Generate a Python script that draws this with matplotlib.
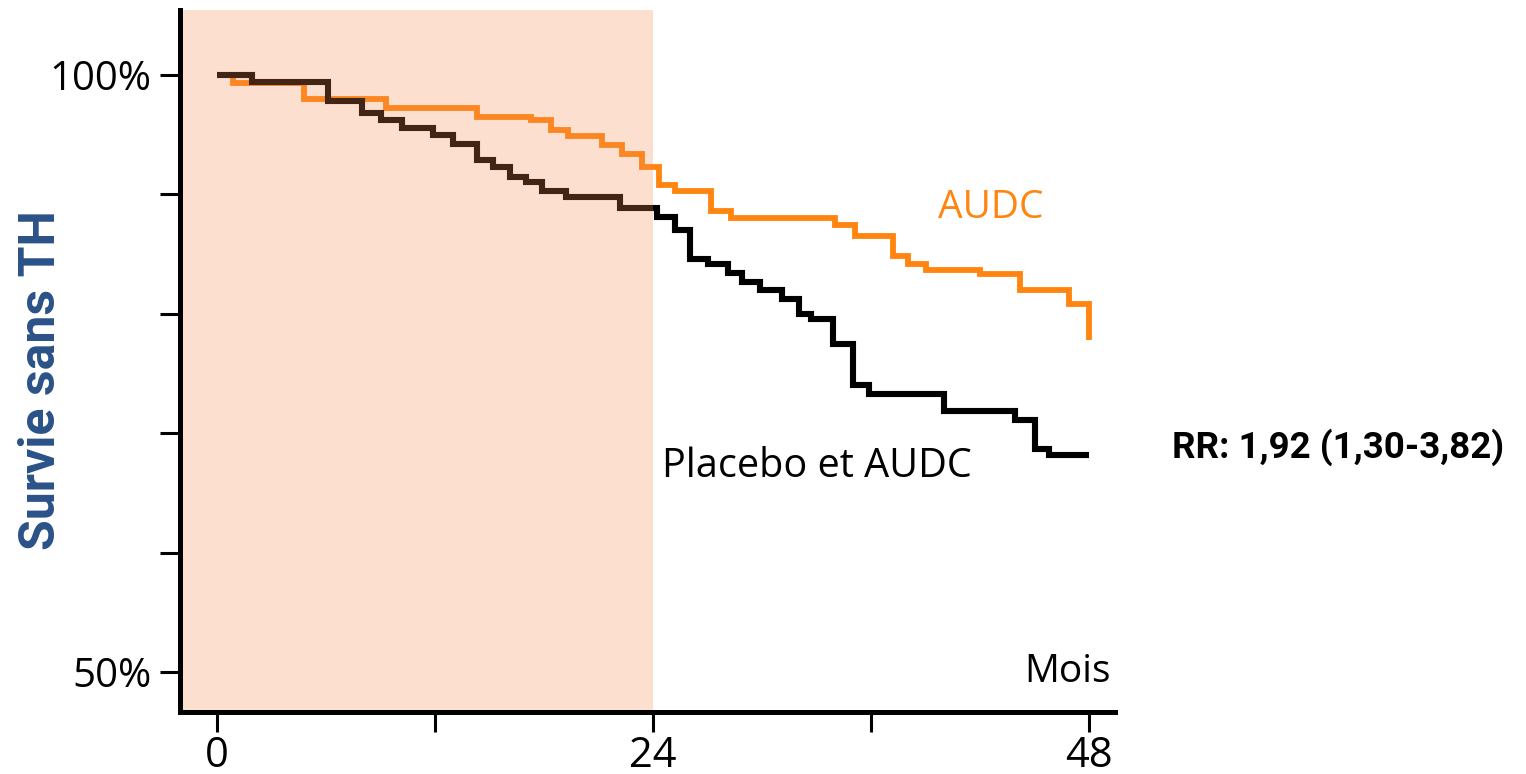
import matplotlib
matplotlib.use("Agg")
import matplotlib.pyplot as plt

# Kaplan-Meier steps: month at which each level starts, survival level (%)
audc_months = [0, 0.9, 4.8, 9.3, 14.3, 17.3, 18.4, 19.3, 21.2, 22.3, 23.4, 24.3, 25.2,
               27.2, 28.3, 34.0, 35.1, 37.2, 38.0, 39.0, 42.0, 44.2, 46.9, 48.0, 48.0]
audc_surv = [100, 99.3, 98.0, 97.2, 96.5, 96.2, 95.4, 94.9, 94.1, 93.4, 92.3, 90.8, 90.3,
             88.6, 88.0, 87.4, 86.5, 84.8, 84.2, 83.7, 83.3, 82.0, 80.8, 80.8, 77.8]

placebo_months = [0, 1.9, 6.1, 8.0, 9.0, 10.2, 11.9, 13.0, 14.3, 15.2, 16.1, 17.0, 17.9,
                  19.2, 22.2, 24.2, 25.2, 26.0, 27.0, 28.1, 28.9, 29.9, 31.1, 32.0, 32.7,
                  33.9, 35.0, 35.9, 40.0, 43.9, 45.0, 45.8, 48.0]
placebo_surv = [100, 99.4, 97.8, 96.8, 96.2, 95.6, 95.0, 94.2, 92.9, 92.3, 91.5, 91.0, 90.3,
                89.8, 88.9, 88.1, 87.0, 84.6, 84.2, 83.4, 82.7, 82.0, 81.2, 80.0, 79.6,
                77.5, 74.0, 73.3, 71.9, 71.1, 68.7, 68.2, 68.2]

x_ticks = [0, 24, 48]
x_minor = [12, 36]
y_ticks = [50, 60, 70, 80, 90, 100]
y_labels = ["50%", "", "", "", "", "100%"]
period_end = 24

ORANGE = "#ff8510"
BLUE = "#2a5287"
plt.rcParams["font.family"] = ["Open Sans", "DejaVu Sans"]

fig = plt.figure(figsize=(15.26, 7.74), dpi=100)
ax = fig.add_axes([0.118, 0.0801, 0.6127, 0.9069])
x0, x1 = -2.04, 49.42
ax.set_xlim(x0, x1)
ax.set_ylim(46.65, 105.44)

ax.step(audc_months, audc_surv, where="post", color=ORANGE, lw=4.2,
        solid_joinstyle="miter", solid_capstyle="butt", zorder=2)
ax.step(placebo_months, placebo_surv, where="post", color="black", lw=4.4,
        solid_joinstyle="miter", solid_capstyle="butt", zorder=3)

# treatment period shading, laid over the curves
ax.axvspan(x0, period_end, color="#f58c50", alpha=0.27, lw=0, zorder=4)

for side in ("top", "right"):
    ax.spines[side].set_visible(False)
for side in ("left", "bottom"):
    ax.spines[side].set_linewidth(3.6)
    ax.spines[side].set_zorder(5)

ax.set_xticks(x_ticks)
ax.set_xticks(x_minor, minor=True)
ax.set_yticks(y_ticks)
ax.set_yticklabels(y_labels)
ax.tick_params(axis="y", length=14.5, width=2.2, labelsize=29, pad=6)
ax.tick_params(axis="x", which="both", length=14.5, width=2.2, labelsize=30, pad=2)

ax.text(42.6, 88.9, "AUDC", color=ORANGE, fontsize=28, ha="center", va="center")
ax.text(24.5, 67.2, "Placebo et AUDC", color="black", fontsize=28.5, ha="left", va="center")
ax.text(49.2, 50.0, "Mois", color="black", fontsize=28, ha="right", va="center")

fig.text(0.0275, 0.509, "Survie sans TH", color=BLUE, fontsize=36, fontweight="bold",
         family=["Roboto", "DejaVu Sans"], rotation=90, ha="center", va="center")
fig.text(0.768, 0.4225, "RR: 1,92 (1,30-3,82)", color="black", fontsize=26.5,
         fontweight="bold", family=["Roboto", "DejaVu Sans"], ha="left", va="center")

fig.savefig("out.png", dpi=100)
